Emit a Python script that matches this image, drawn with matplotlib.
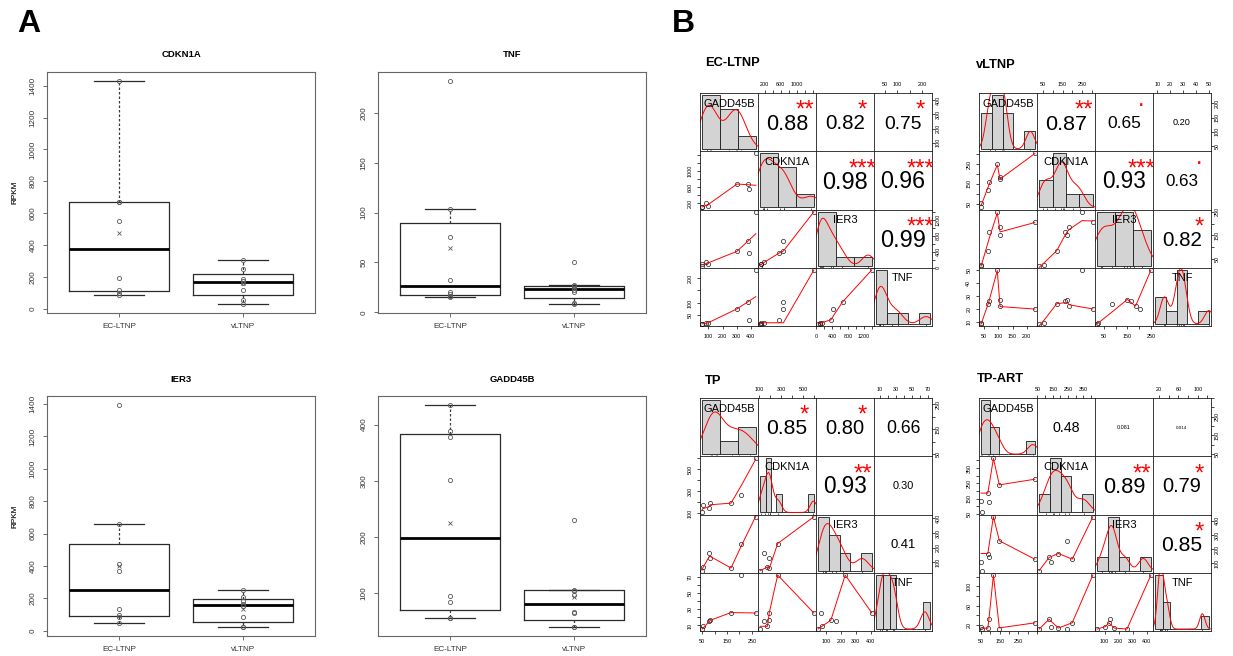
import numpy as np
import matplotlib
matplotlib.use("Agg")
import matplotlib.pyplot as plt
from matplotlib.font_manager import FontProperties, findfont
from matplotlib.textpath import TextPath, TextToPath
from matplotlib.transforms import ScaledTranslation

plt.rcParams['font.family'] = ['Liberation Sans', 'DejaVu Sans']

W, H, DPI = 1233, 656, 100

# ---------------- data ----------------
genes = ["GADD45B", "CDKN1A", "IER3", "TNF"]
box_genes = ["CDKN1A", "TNF", "IER3", "GADD45B"]
box_groups = ["EC-LTNP", "vLTNP"]
matrix_titles = ["EC-LTNP", "vLTNP", "TP", "TP-ART"]

# EC-LTNP samples (RPKM)
ec_gadd45b = [435, 378, 388, 302, 56, 56, 83, 95]
ec_cdkn1a = [1430, 670, 550, 670, 90, 100, 195, 120]
ec_ier3 = [1395, 660, 370, 410, 50, 85, 135, 95]
ec_tnf = [232, 104, 32, 76, 15, 16, 20, 18]

# vLTNP samples
vl_gadd45b = [39, 40, 65, 66, 96, 104, 106, 229]
vl_cdkn1a = [30, 55, 120, 160, 250, 175, 185, 305]
vl_ier3 = [22, 25, 85, 165, 250, 150, 185, 205]
vl_tnf = [8.3, 9, 24, 26, 50, 27, 22, 20]

# TP samples
tp_gadd45b = [50, 53, 79, 83, 166, 207, 266]
tp_cdkn1a = [109, 175, 145, 190, 192, 268, 596]
tp_ier3 = [44, 70, 163, 130, 60, 228, 409]
tp_tnf = [5.6, 9, 15, 16.5, 26, 72.5, 25.5]

# TP-ART samples
ta_gadd45b = [50, 54, 86, 93, 116, 148, 339]
ta_cdkn1a = [137, 61, 187, 126, 413, 241, 278]
ta_ier3 = [106, 47, 169, 141, 429, 259, 129]
ta_tnf = [17, 12, 14, 32, 123, 12, 25]

# correlation labels, upper panels in order (1,2),(1,3),(1,4),(2,3),(2,4),(3,4)
ec_r_text = ["0.88", "0.82", "0.75", "0.98", "0.96", "0.99"]
ec_stars = ["**", "*", "*", "***", "***", "***"]
vl_r_text = ["0.87", "0.65", "0.20", "0.93", "0.63", "0.82"]
vl_stars = ["**", ".", "", "***", ".", "*"]
tp_r_text = ["0.85", "0.80", "0.66", "0.93", "0.30", "0.41"]
tp_stars = ["*", "*", "", "**", "", ""]
ta_r_text = ["0.48", "0.081", "0.014", "0.89", "0.79", "0.85"]
ta_stars = ["", "", "", "**", "*", "*"]

# axis tick labels that are shown (GADD45B, CDKN1A, IER3, TNF)
ec_tick_labels = [[100, 200, 300, 400], [200, 600, 1000], [0, 400, 800, 1200], [50, 100, 200]]
vl_tick_labels = [[50, 100, 150, 200], [50, 150, 250], [50, 150, 250], [10, 20, 30, 40, 50]]
tp_tick_labels = [[50, 150, 250], [100, 300, 500], [100, 200, 300, 400], [10, 30, 50, 70]]
ta_tick_labels = [[50, 150, 250], [50, 150, 250, 350], [100, 200, 300, 400], [20, 60, 100]]

# ---------------- helpers (R-like algorithms) ----------------
FAM = ['Liberation Sans', 'DejaVu Sans']
NARROW = ['Liberation Sans Narrow', 'Liberation Sans', 'DejaVu Sans']
_t2p = TextToPath()


def em_width(s, family=FAM, weight='normal'):
    fp = FontProperties(family=family, weight=weight, size=100)
    w, h, d = _t2p.get_text_width_height_descent(s, fp, ismath=False)
    return w / 100.0


def ink_center_em(s, family=FAM, weight='normal'):
    tp = TextPath((0, 0), s, size=1, prop=FontProperties(family=family, weight=weight))
    bb = tp.get_extents()
    return (bb.y0 + bb.y1) / 2.0


def pretty_core(lo, up, ndiv, min_n, h, h5):
    dx = up - lo
    cell = dx / ndiv if ndiv > 1 else dx
    U = 10.0 ** np.floor(np.log10(cell))
    unit = U
    if 2 * U - cell < h * (cell - unit):
        unit = 2 * U
        if 5 * U - cell < h5 * (cell - unit):
            unit = 5 * U
            if 10 * U - cell < h * (cell - unit):
                unit = 10 * U
    eps = 1e-10
    ns = np.floor(lo / unit + eps)
    nu = np.ceil(up / unit - eps)
    while ns * unit > lo + eps * unit:
        ns -= 1
    while nu * unit < up - eps * unit:
        nu += 1
    k = int(0.5 + nu - ns)
    if k < min_n:
        k = min_n - k
        if ns >= 0:
            nu += k // 2
            ns -= k // 2 + k % 2
        else:
            ns -= k // 2
            nu += k // 2 + k % 2
    return ns, nu, unit


def axis_ticks(lo, up, n=5):
    ns, nu, unit = pretty_core(lo, up, n, 1, 0.8, 1.7)
    eps = 1e-10
    if nu >= ns + 1:
        if ns * unit < lo - eps * unit:
            ns += 1
        if nu > ns + 1 and nu * unit > up + eps * unit:
            nu -= 1
    return np.arange(ns, nu + 1) * unit


def hist_breaks(x):
    x = np.asarray(x, float)
    q1, q3 = np.percentile(x, [25, 75])
    h = 2 * (q3 - q1)
    n = len(x)
    nclass = int(np.ceil((x.max() - x.min()) / (h * n ** (-1 / 3)))) if h > 0 else 1
    ns, nu, unit = pretty_core(x.min(), x.max(), nclass, 1, 1.5, 2.75)
    return np.arange(ns, nu + 1) * unit


def hist_density(x, breaks):
    x = np.asarray(x, float)
    idx = np.searchsorted(breaks, x, side='left') - 1
    idx[idx < 0] = 0
    counts = np.bincount(idx, minlength=len(breaks) - 1)
    return counts / (len(x) * np.diff(breaks))


def kde(x):
    x = np.asarray(x, float)
    n = len(x)
    sd = np.std(x, ddof=1)
    q1, q3 = np.percentile(x, [25, 75])
    lo = min(sd, (q3 - q1) / 1.34)
    if lo <= 0:
        lo = sd if sd > 0 else 1.0
    bw = 0.9 * lo * n ** (-0.2)
    g = np.linspace(x.min() - 3 * bw, x.max() + 3 * bw, 512)
    d = np.exp(-0.5 * ((g[:, None] - x[None, :]) / bw) ** 2).sum(1) / (n * bw * np.sqrt(2 * np.pi))
    return g, d


def _lowest(x, y, n, xs, nleft, nright, w, userw, rw):
    rng = x[n - 1] - x[0]
    h = max(xs - x[nleft], x[nright] - xs)
    h9, h1 = 0.999 * h, 0.001 * h
    a = 0.0
    j = nleft
    while j < n:
        w[j] = 0.0
        r = abs(x[j] - xs)
        if r <= h9:
            w[j] = 1.0 if r <= h1 else (1 - (r / h) ** 3) ** 3
            if userw:
                w[j] *= rw[j]
            a += w[j]
        elif x[j] > xs:
            break
        j += 1
    nrt = j - 1
    if a <= 0:
        return None
    for j in range(nleft, nrt + 1):
        w[j] /= a
    if h > 0:
        a = sum(w[j] * x[j] for j in range(nleft, nrt + 1))
        b = xs - a
        c = sum(w[j] * (x[j] - a) ** 2 for j in range(nleft, nrt + 1))
        if np.sqrt(c) > 0.001 * rng:
            b /= c
            for j in range(nleft, nrt + 1):
                w[j] *= (b * (x[j] - a) + 1.0)
    return sum(w[j] * y[j] for j in range(nleft, nrt + 1))


def lowess(xin, yin, f=2 / 3, nsteps=3):
    o = np.argsort(np.asarray(xin, float), kind='stable')
    x = np.asarray(xin, float)[o]
    y = np.asarray(yin, float)[o]
    n = len(x)
    delta = 0.01 * (x[-1] - x[0])
    ys = np.zeros(n)
    rw = np.zeros(n)
    res = np.zeros(n)
    ns = max(2, min(n, int(f * n + 1e-7)))
    it = 1
    while it <= nsteps + 1:
        nleft, nright, last, i = 0, ns - 1, -1, 0
        while True:
            if nright < n - 1:
                d1 = x[i] - x[nleft]
                d2 = x[nright + 1] - x[i]
                if d1 > d2:
                    nleft += 1
                    nright += 1
                    continue
            val = _lowest(x, y, n, x[i], nleft, nright, res, it > 1, rw)
            ys[i] = y[i] if val is None else val
            if last < i - 1:
                denom = x[i] - x[last]
                for j in range(last + 1, i):
                    alpha = (x[j] - x[last]) / denom
                    ys[j] = alpha * ys[i] + (1 - alpha) * ys[last]
            last = i
            cut = x[last] + delta
            i = last + 1
            while i < n:
                if x[i] > cut:
                    break
                if x[i] == x[last]:
                    ys[i] = ys[last]
                    last = i
                i += 1
            i = max(last + 1, i - 1)
            if last >= n - 1:
                break
        res[:] = y - ys
        sc = np.mean(np.abs(res))
        if it > nsteps:
            break
        srt = np.sort(np.abs(res))
        m1 = n // 2
        if n % 2 == 0:
            cmad = 3 * (srt[m1] + srt[n - m1 - 1])
        else:
            cmad = 6 * srt[m1]
        if cmad < 1e-7 * sc:
            break
        r = np.abs(res)
        rw[:] = np.where(r <= 0.001 * cmad, 1.0,
                         np.where(r <= 0.999 * cmad, (1 - (r / cmad) ** 2) ** 2, 0.0))
        it += 1
    return x, ys


def fivenum(x):
    xs = np.sort(np.asarray(x, float))
    n = len(xs)
    n4 = np.floor((n + 3) / 2) / 2
    d = np.array([1, n4, (n + 1) / 2, n + 1 - n4, n]) - 1
    return 0.5 * (xs[np.floor(d).astype(int)] + xs[np.ceil(d).astype(int)])


def fmt(v):
    return str(int(round(v)))


fig = plt.figure(figsize=(W / DPI, H / DPI), dpi=DPI)


def px_axes(l, t, w, h):
    return fig.add_axes([l / W, 1 - (t + h) / H, w / W, h / H])


def ink_text(ax, x, y, s, size_pt, color='black', family=FAM, weight='normal'):
    cy = ink_center_em(s, family, weight) * size_pt / 72.0
    tr = ax.transAxes + ScaledTranslation(0, -cy, fig.dpi_scale_trans)
    return ax.text(x, y, s, fontsize=size_pt, fontweight=weight, family=family, ha='center',
                   va='baseline', transform=tr, color=color, clip_on=True)


# ---------------- panel labels ----------------
fig.text(29 / W, 1 - 24 / H, "A", fontsize=23, fontweight='bold', ha='center', va='center')
fig.text(683 / W, 1 - 24 / H, "B", fontsize=23, fontweight='bold', ha='center', va='center')

# ---------------- panel A: boxplots ----------------
box_values = {
    "CDKN1A": (ec_cdkn1a, vl_cdkn1a),
    "TNF": (ec_tnf, vl_tnf),
    "IER3": (ec_ier3, vl_ier3),
    "GADD45B": (ec_gadd45b, vl_gadd45b),
}
box_pos = [(47, 72, 268, 241), (378, 72, 268, 241), (47, 396, 268, 240), (378, 396, 268, 240)]
A_TICK = 5.9
for gene, (l, t, w, h) in zip(box_genes, box_pos):
    ax = px_axes(l, t, w, h)
    groups = box_values[gene]
    stats = []
    for d in groups:
        d = np.asarray(d, float)
        fn = fivenum(d)
        iqr = fn[3] - fn[1]
        hi = d[d <= fn[3] + 1.5 * iqr].max()
        lo = d[d >= fn[1] - 1.5 * iqr].min()
        stats.append(dict(med=fn[2], q1=fn[1], q3=fn[3], whislo=lo, whishi=hi, fliers=[]))
    ax.bxp(stats, positions=[1, 2], widths=0.8, capwidths=0.4, showfliers=False,
           boxprops=dict(color='#2a2a2a', lw=0.9),
           whiskerprops=dict(color='#3a3a3a', lw=0.9, ls=(0, (2.0, 1.6))),
           capprops=dict(color='#2a2a2a', lw=0.9),
           medianprops=dict(color='black', lw=2.0))
    for k, d in enumerate(groups):
        ax.plot([k + 1] * len(d), d, 'o', mfc='none', mec='#5a5a5a', ms=3.0, mew=0.6, zorder=4)
        ax.plot([k + 1], [np.mean(d)], 'x', color='#5a5a5a', ms=3.3, mew=0.6, zorder=4)
    allv = np.concatenate([np.asarray(g, float) for g in groups])
    lo, hi = allv.min(), allv.max()
    ylim = (lo - 0.04 * (hi - lo), hi + 0.04 * (hi - lo))
    yt = axis_ticks(*ylim)
    ax.set_yticks(yt)
    ax.set_yticklabels([fmt(v) for v in yt], rotation=90, va='center')
    ax.set_ylim(ylim)
    ax.set_xticks([1, 2])
    ax.set_xticklabels(box_groups)
    ax.set_xlim(0.42, 2.58)
    ax.tick_params(axis='both', direction='out', length=3, width=0.6, color='#555555',
                   labelsize=A_TICK, labelcolor='#333333')
    ax.tick_params(axis='y', pad=4.5)
    ax.tick_params(axis='x', pad=4.2)
    for s in ax.spines.values():
        s.set_color('#666666')
        s.set_linewidth(0.8)
    ax.text(0.5, 1.0, gene, transform=ax.transAxes + ScaledTranslation(0, 17 / DPI, fig.dpi_scale_trans),
            ha='center', va='center', fontsize=6.8, fontweight='bold')
    fig.text(15 / W, 1 - (t + h / 2) / H, "RPKM", rotation=90, ha='center', va='center',
             fontsize=A_TICK, color='#333333')

# ---------------- panel B: correlation matrices ----------------
matrices = [
    ([ec_gadd45b, ec_cdkn1a, ec_ier3, ec_tnf], ec_r_text, ec_stars, ec_tick_labels, (700, 93)),
    ([vl_gadd45b, vl_cdkn1a, vl_ier3, vl_tnf], vl_r_text, vl_stars, vl_tick_labels, (979, 93)),
    ([tp_gadd45b, tp_cdkn1a, tp_ier3, tp_tnf], tp_r_text, tp_stars, tp_tick_labels, (700, 398)),
    ([ta_gadd45b, ta_cdkn1a, ta_ier3, ta_tnf], ta_r_text, ta_stars, ta_tick_labels, (979, 398)),
]
title_pos = [(705, 63), (976, 65), (705, 381), (977, 379)]
CW, CH = 58.0, 58.3
B_TICK = 3.9
upper_index = {(0, 1): 0, (0, 2): 1, (0, 3): 2, (1, 2): 3, (1, 3): 4, (2, 3): 5}

lab_em = max(em_width(g, NARROW) for g in genes)
lab_size = 0.9 * CW / (lab_em * DPI / 72.0)


def set_axis(ax, side, var_vals, shown):
    v = np.asarray(var_vals, float)
    d = v.max() - v.min()
    lim = (v.min() - 0.04 * d, v.max() + 0.04 * d)
    ticks = axis_ticks(*lim)
    labels = [fmt(tk) if any(abs(tk - s) < 1e-9 for s in shown) else '' for tk in ticks]
    if side in ('top', 'bottom'):
        ax.set_xticks(ticks)
        ax.set_xticklabels(labels)
        ax.set_xlim(lim)
        ax.tick_params(axis='x', direction='out', length=2.5, width=0.5, labelsize=B_TICK,
                       top=(side == 'top'), bottom=(side == 'bottom'),
                       labeltop=(side == 'top'), labelbottom=(side == 'bottom'),
                       pad=(1.9 if side == 'top' else 3.2))
    else:
        ax.set_yticks(ticks)
        ax.set_yticklabels(labels, rotation=90, va='center')
        ax.set_ylim(lim)
        ax.tick_params(axis='y', direction='out', length=2.5, width=0.5, labelsize=B_TICK,
                       left=(side == 'left'), right=(side == 'right'),
                       labelleft=(side == 'left'), labelright=(side == 'right'),
                       pad=(3.0 if side == 'left' else 0.3))
        for lab in ax.get_yticklabels():
            lab.set_va('center')


for (cols, rtxt, stars, tlabs, (L, T)), title, (tx, ty) in zip(matrices, matrix_titles, title_pos):
    fig.text(tx / W, 1 - ty / H, title, ha='left', va='center', fontsize=9.3, fontweight='bold')
    n = len(cols)
    rngs = []
    for v in cols:
        v = np.asarray(v, float)
        d = v.max() - v.min()
        rngs.append((v.min() - 0.04 * d, v.max() + 0.04 * d))
    for i in range(n):
        for j in range(n):
            ax = px_axes(L + j * CW, T + i * CH, CW, CH)
            ax.set_xticks([])
            ax.set_yticks([])
            for s in ax.spines.values():
                s.set_linewidth(0.6)
                s.set_color('#1a1a1a')
            if i == j:
                v = np.asarray(cols[i], float)
                br = hist_breaks(v)
                dens = hist_density(v, br)
                bd = br[-1] - br[0]
                dmax = dens.max()
                ax.bar(br[:-1], dens, width=np.diff(br), align='edge', color='#D3D3D3',
                       edgecolor='#1a1a1a', linewidth=0.6)
                gx, gy = kde(v)
                ax.plot(gx, gy, color='red', lw=0.7)
                ax.set_xlim(br[0] - 0.04 * bd, br[-1] + 0.04 * bd)
                ylo, yhi = -0.04 * dmax, 1.04 * dmax
                ax.set_ylim(ylo, yhi)
                ax.vlines(v, ylo, ylo + 0.03 * (yhi - ylo), color='#1a1a1a', lw=0.5)
                ink_text(ax, 0.5, 0.833, genes[i], lab_size, family=NARROW)
            else:
                ax.set_xlim(rngs[j])
                ax.set_ylim(rngs[i])
                if i > j:
                    xv = np.asarray(cols[j], float)
                    yv = np.asarray(cols[i], float)
                    ax.plot(xv, yv, 'o', mfc='none', mec='#1a1a1a', ms=3.0, mew=0.5)
                    lx, ly = lowess(xv, yv)
                    ax.plot(lx, ly, color='red', lw=0.7)
                else:
                    k = upper_index[(i, j)]
                    txt = rtxt[k]
                    full_px = 0.8 * CW / em_width(txt, NARROW)
                    full_pt = full_px * 72.0 / DPI
                    r = abs(float(txt))
                    ink_text(ax, 0.5, 0.5, txt, full_pt * (r + 0.3) / 1.3, family=NARROW)
                    if stars[k]:
                        ink_text(ax, 0.8, 0.8, stars[k], full_pt, color='red', family=NARROW)
            if i == 0 and j % 2 == 1:
                set_axis(ax, 'top', cols[j], tlabs[j])
            if i == n - 1 and j % 2 == 0:
                set_axis(ax, 'bottom', cols[j], tlabs[j])
            if j == 0 and i % 2 == 1:
                set_axis(ax, 'left', cols[i], tlabs[i])
            if j == n - 1 and i % 2 == 0:
                set_axis(ax, 'right', cols[i], tlabs[i])

fig.savefig("out.png", dpi=DPI)
